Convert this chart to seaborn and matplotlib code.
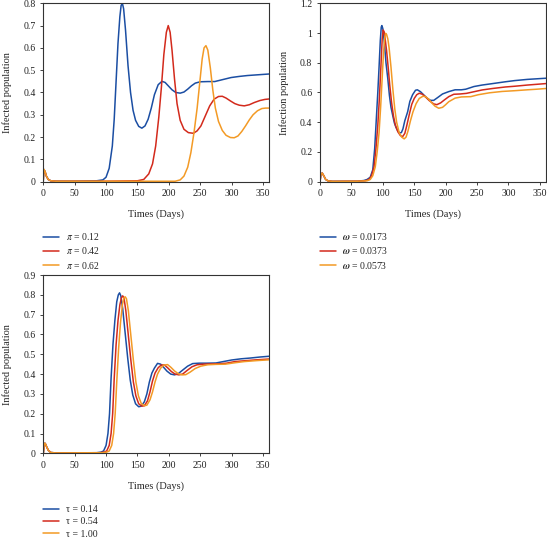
import pandas as pd
import matplotlib
matplotlib.use("Agg")
import matplotlib.pyplot as plt
import seaborn as sns

# ---- panel A: varying pi ----
pi_labels = [r"$\pi$ = 0.12", r"$\pi$ = 0.42", r"$\pi$ = 0.62"]
pi_days_1 = [0, 1, 3, 5, 8, 12, 20, 50, 85, 95, 100, 105, 110, 113, 116, 119, 122, 124, 126, 128, 131, 135, 139, 143,
             147, 152, 157, 162, 167, 172, 177, 183, 189, 194, 199, 205, 211, 218, 224, 230, 236, 242, 250, 262, 273,
             286, 299, 312, 325, 340, 360]
pi_inf_1 = [0, 0.055, 0.045, 0.025, 0.01, 0.004, 0.002, 0.002, 0.004, 0.008, 0.02, 0.06, 0.16, 0.28, 0.45, 0.62,
            0.74, 0.79, 0.8, 0.775, 0.68, 0.52, 0.40, 0.32, 0.275, 0.248, 0.24, 0.25, 0.28, 0.33, 0.39, 0.435, 0.45,
            0.445, 0.43, 0.412, 0.40, 0.397, 0.402, 0.415, 0.43, 0.442, 0.448, 0.449, 0.449, 0.458, 0.467, 0.472,
            0.476, 0.479, 0.483]
pi_days_2 = [0, 1, 3, 5, 8, 12, 20, 100, 150, 160, 168, 174, 179, 184, 188, 192, 196, 199, 202, 205, 209, 213, 218,
             224, 231, 239, 245, 251, 258, 265, 272, 279, 285, 291, 298, 305, 312, 320, 328, 336, 345, 353, 360]
pi_inf_2 = [0, 0.055, 0.045, 0.025, 0.01, 0.004, 0.002, 0.002, 0.004, 0.01, 0.035, 0.08, 0.16, 0.29, 0.42, 0.57,
            0.67, 0.70, 0.67, 0.59, 0.46, 0.35, 0.275, 0.235, 0.22, 0.217, 0.228, 0.25, 0.295, 0.34, 0.37, 0.382,
            0.383, 0.375, 0.362, 0.35, 0.343, 0.34, 0.345, 0.355, 0.364, 0.369, 0.371]
pi_days_3 = [0, 1, 3, 5, 8, 12, 20, 210, 218, 224, 230, 235, 240, 245, 249, 253, 256, 259, 262, 266, 270, 274, 279,
             285, 291, 298, 304, 310, 316, 322, 328, 334, 341, 348, 354, 360]
pi_inf_3 = [0, 0.055, 0.045, 0.025, 0.01, 0.004, 0.002, 0.002, 0.008, 0.025, 0.065, 0.13, 0.22, 0.33, 0.44, 0.55,
            0.6, 0.61, 0.59, 0.51, 0.41, 0.33, 0.27, 0.23, 0.208, 0.198, 0.197, 0.205, 0.225, 0.25, 0.277, 0.30,
            0.318, 0.328, 0.33, 0.33]

# ---- panel B: varying omega ----
om_labels = [r"$\boldsymbol{\omega}$ = 0.0173", r"$\boldsymbol{\omega}$ = 0.0373", r"$\boldsymbol{\omega}$ = 0.0573"]
om_days_1 = [0, 1.5, 3.5, 6, 9, 13, 20, 60, 70, 75, 80, 84, 87, 89.5, 92, 94, 96, 97.5, 98.5, 100, 102.6, 105, 108,
             110.5, 113, 116, 118.4, 121, 124, 127, 129.5, 132, 135, 139.5, 143, 147.4, 152, 155, 160, 166, 171, 176,
             181, 187, 195, 205, 215, 225, 232, 245, 258, 275, 295, 310, 330, 345, 360]
om_inf_1 = [0, 0.05, 0.058, 0.04, 0.015, 0.005, 0.002, 0.003, 0.008, 0.015, 0.03, 0.08, 0.22, 0.41, 0.6, 0.77, 0.95,
            1.04, 1.05, 1.03, 0.93, 0.80, 0.69, 0.58, 0.50, 0.44, 0.395, 0.365, 0.34, 0.328, 0.33, 0.355, 0.41, 0.47,
            0.54, 0.585, 0.615, 0.618, 0.605, 0.58, 0.56, 0.547, 0.547, 0.565, 0.59, 0.606, 0.618, 0.618, 0.622,
            0.64, 0.65, 0.66, 0.672, 0.68, 0.688, 0.692, 0.696]
om_days_2 = [0, 1.5, 3.5, 6, 9, 13, 20, 60, 72, 78, 82, 86, 89, 92, 94.5, 97, 99, 100.5, 102, 104, 106, 108.5, 111,
             114, 117, 120, 124, 128, 131.5, 135, 138, 142, 146, 150, 154, 158, 163, 168, 174, 181, 186, 192, 198,
             205, 213, 223, 233, 245, 258, 275, 295, 310, 330, 345, 360]
om_inf_2 = [0, 0.05, 0.058, 0.04, 0.015, 0.005, 0.002, 0.003, 0.006, 0.015, 0.04, 0.1, 0.22, 0.38, 0.56, 0.78, 0.96,
            1.02, 1.01, 0.95, 0.88, 0.77, 0.65, 0.53, 0.44, 0.38, 0.335, 0.31, 0.303, 0.325, 0.375, 0.45, 0.52, 0.56,
            0.585, 0.595, 0.588, 0.57, 0.545, 0.523, 0.518, 0.53, 0.55, 0.572, 0.588, 0.59, 0.594, 0.605, 0.617,
            0.627, 0.637, 0.642, 0.65, 0.655, 0.66]
om_days_3 = [0, 1.5, 3.5, 6, 9, 13, 20, 60, 75, 80, 84, 88, 91, 94, 96.5, 99, 101, 103, 104.5, 106, 108, 110, 113,
             116, 119, 122, 126, 130, 134, 137, 140, 144, 148, 153, 158, 164, 168, 173, 178, 183, 189, 195, 200, 205,
             215, 225, 240, 252, 270, 290, 310, 330, 345, 360]
om_inf_3 = [0, 0.05, 0.058, 0.04, 0.015, 0.005, 0.002, 0.003, 0.006, 0.015, 0.04, 0.1, 0.2, 0.33, 0.5, 0.7, 0.86,
            0.97, 0.998, 0.99, 0.96, 0.90, 0.77, 0.62, 0.49, 0.40, 0.33, 0.30, 0.288, 0.30, 0.34, 0.41, 0.47, 0.525,
            0.56, 0.575, 0.572, 0.555, 0.53, 0.508, 0.494, 0.50, 0.518, 0.538, 0.562, 0.57, 0.572, 0.585, 0.598,
            0.607, 0.612, 0.618, 0.622, 0.627]

# ---- panel C: varying tau ----
tau_labels = ["τ = 0.14", "τ = 0.54", "τ = 1.00"]
tau_days_1 = [0, 1.5, 3, 5, 8, 12, 20, 85, 92, 96, 100, 103, 105.5, 108, 111, 114, 117, 119.5, 121.5, 123.5, 126.5,
              130, 134.5, 138.5, 142.5, 147, 152, 156, 161, 165, 169, 173, 177, 182, 187, 192, 197, 203, 209, 215,
              222, 230, 238, 248, 260, 275, 290, 300, 315, 330, 345, 360]
tau_inf_1 = [0, 0.05, 0.05, 0.035, 0.015, 0.004, 0.002, 0.003, 0.006, 0.012, 0.04, 0.1, 0.2, 0.38, 0.55, 0.67, 0.765,
             0.80, 0.81, 0.795, 0.73, 0.62, 0.48, 0.37, 0.295, 0.25, 0.235, 0.238, 0.26, 0.30, 0.36, 0.405, 0.43,
             0.454, 0.45, 0.433, 0.415, 0.40, 0.396, 0.402, 0.42, 0.44, 0.453, 0.455, 0.455, 0.456, 0.465, 0.471,
             0.477, 0.481, 0.486, 0.49]
tau_days_2 = [0, 1.5, 3, 5, 8, 12, 20, 90, 97, 101, 105, 108, 110.5, 113, 116, 119, 122, 124.5, 126.5, 128.5, 131.5,
              135, 139.5, 143.5, 147.5, 152, 157, 161, 166, 170, 174, 178, 183, 188, 193, 198, 204, 210, 216, 222,
              229, 237, 245, 255, 265, 280, 292, 305, 320, 340, 360]
tau_inf_2 = [0, 0.05, 0.05, 0.035, 0.015, 0.004, 0.002, 0.003, 0.006, 0.012, 0.04, 0.1, 0.2, 0.38, 0.55, 0.67, 0.75,
             0.785, 0.795, 0.785, 0.72, 0.61, 0.47, 0.36, 0.29, 0.25, 0.238, 0.24, 0.265, 0.31, 0.365, 0.405, 0.432,
             0.446, 0.446, 0.432, 0.413, 0.40, 0.396, 0.40, 0.418, 0.437, 0.447, 0.45, 0.451, 0.452, 0.455, 0.463,
             0.467, 0.472, 0.476]
tau_days_3 = [0, 1.5, 3, 5, 8, 12, 20, 95, 101, 105, 109, 112, 114.5, 117, 120, 123, 126, 128.5, 130.5, 132.5, 135.5,
              139, 143.5, 147.5, 151.5, 156, 161, 165, 170, 174, 178, 182, 187, 192, 198, 203, 209, 215, 221, 227,
              234, 242, 251, 262, 275, 290, 305, 320, 340, 360]
tau_inf_3 = [0, 0.05, 0.05, 0.035, 0.015, 0.004, 0.002, 0.003, 0.006, 0.012, 0.04, 0.1, 0.2, 0.36, 0.53, 0.66, 0.75,
             0.785, 0.79, 0.78, 0.72, 0.61, 0.47, 0.36, 0.29, 0.252, 0.24, 0.243, 0.27, 0.31, 0.36, 0.40, 0.43, 0.445,
             0.448, 0.435, 0.416, 0.402, 0.396, 0.397, 0.41, 0.428, 0.44, 0.447, 0.449, 0.45, 0.457, 0.463, 0.468,
             0.472]

colors = ["#1b4ea3", "#d32a1c", "#f39a25"]


def long_frame(days_list, inf_list, labels):
    parts = []
    for d, v, lab in zip(days_list, inf_list, labels):
        parts.append(pd.DataFrame({"day": d, "inf": v, "param": lab}))
    return pd.concat(parts, ignore_index=True)


sns.set_style("ticks")
plt.rcParams["font.family"] = ["Liberation Serif", "DejaVu Serif"]
plt.rcParams["mathtext.fontset"] = "stix"
plt.rcParams["font.size"] = 7

fig = plt.figure(figsize=(5.47, 5.38), dpi=100)

# axes rect, curves, labels, y label, y max, y step, legend top (figure fraction)
panels = [
    ([0.079, 0.6623, 0.4135, 0.3316], pi_days_1, pi_days_2, pi_days_3, pi_inf_1, pi_inf_2, pi_inf_3, pi_labels,
     "Infected population", 0.8, 0.1, 0.5706),
    ([0.585, 0.6623, 0.4135, 0.3316], om_days_1, om_days_2, om_days_3, om_inf_1, om_inf_2, om_inf_3, om_labels,
     "Infection population", 1.2, 0.2, 0.5706),
    ([0.0792, 0.1574, 0.413, 0.3314], tau_days_1, tau_days_2, tau_days_3, tau_inf_1, tau_inf_2, tau_inf_3, tau_labels,
     "Infected population", 0.9, 0.1, 0.0613),
]

for rect, d1, d2, d3, v1, v2, v3, labels, ylab, ymax, ystep, leg_y in panels:
    ax = fig.add_axes(rect)
    df = long_frame([d1, d2, d3], [v1, v2, v3], labels)
    sns.lineplot(data=df, x="day", y="inf", hue="param", palette=colors, estimator=None,
                 sort=False, linewidth=1.1, ax=ax)
    ax.set_xlim(0, 360)
    ax.set_ylim(0, ymax)
    ax.set_xticks(range(0, 351, 50))
    n = int(round(ymax / ystep))
    yt = [round(i * ystep, 2) for i in range(n + 1)]
    ax.set_yticks(yt)
    ax.set_yticklabels(["{:g}".format(t) for t in yt])
    ax.tick_params(direction="out", length=2.5, width=0.6, pad=3, labelsize=7, colors="#222222")
    for sp in ax.spines.values():
        sp.set_linewidth(0.8)
        sp.set_color("#333333")
    ax.set_xlabel("Times (Days)", fontsize=7.5, labelpad=8)
    ax.set_ylabel(ylab, fontsize=7.5, labelpad=8)
    ax.legend(loc="upper left", bbox_to_anchor=(rect[0], leg_y), bbox_transform=fig.transFigure,
              frameon=False, fontsize=7, handlelength=1.6, handletextpad=0.7, labelspacing=0.35,
              borderpad=0, borderaxespad=0)

fig.savefig("out.png", dpi=100)
